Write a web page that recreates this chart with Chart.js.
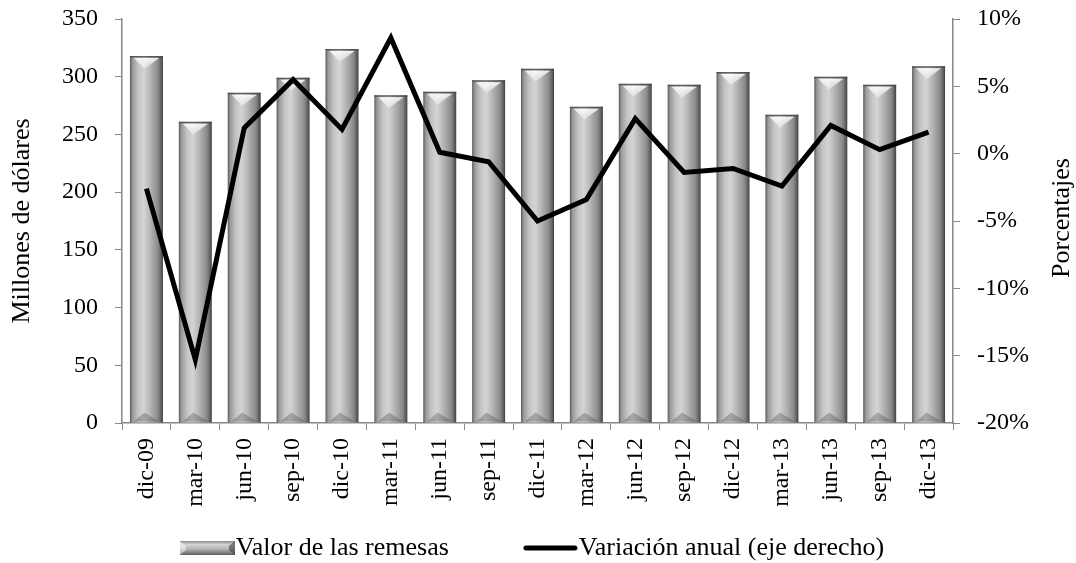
<!DOCTYPE html>
<html>
<head>
<meta charset="utf-8">
<script src="https://cdn.jsdelivr.net/npm/chart.js@4"></script>
<style>
  html, body { margin: 0; padding: 0; background: #fff; }
  #wrap { width: 1076px; height: 563px; }
</style>
</head>
<body>
<div id="wrap"><canvas id="chart"></canvas></div>
<script>
const trimestres = ['dic-09','mar-10','jun-10','sep-10','dic-10','mar-11','jun-11','sep-11','dic-11',
                    'mar-12','jun-12','sep-12','dic-12','mar-13','jun-13','sep-13','dic-13'];
// millones de dolares
const remesas = [318, 261, 286, 299, 324, 284, 287, 297, 307, 274, 294, 293, 304, 267, 300, 293, 309];
// variacion anual, porcentaje
const variacion = [-2.6, -15.3, 1.9, 5.5, 1.8, 8.6, 0.1, -0.6, -5.0, -3.4, 2.6, -1.4, -1.1, -2.4, 2.1, 0.3, 1.6];

const FONT = "'Liberation Serif', 'Times New Roman', serif";
const BAR_PCT = 0.675;

Chart.defaults.font.family = FONT;
Chart.defaults.color = '#000';

function barFill(context) {
  if (context.type !== 'data') return '#b5b5b5';
  const chart = context.chart;
  const xs = chart.scales.x;
  if (!xs || !chart.chartArea) return '#b5b5b5';
  const w = xs.width / trimestres.length * BAR_PCT;
  const cx = xs.getPixelForValue(context.dataIndex);
  const g = chart.ctx.createLinearGradient(cx - w / 2, 0, cx + w / 2, 0);
  g.addColorStop(0, '#5a5a5a');
  g.addColorStop(0.08, '#9a9a9a');
  g.addColorStop(0.25, '#c4c4c4');
  g.addColorStop(0.42, '#d4d4d4');
  g.addColorStop(0.62, '#b4b4b4');
  g.addColorStop(0.85, '#8a8a8a');
  g.addColorStop(0.95, '#5e5e5e');
  g.addColorStop(1, '#3c3c3c');
  return g;
}

// legend samples
function legendBarImg() {
  const c = document.createElement('canvas');
  c.width = 55; c.height = 14;
  const g = c.getContext('2d');
  const gr = g.createLinearGradient(0, 0, 0, 14);
  gr.addColorStop(0, '#8a8a8a');
  gr.addColorStop(0.25, '#d2d2d2');
  gr.addColorStop(0.55, '#b8b8b8');
  gr.addColorStop(1, '#606060');
  g.fillStyle = gr;
  g.fillRect(0, 0, 55, 14);
  g.fillStyle = 'rgba(60,60,60,0.6)';
  g.beginPath(); g.moveTo(55, 0); g.lineTo(49, 5); g.lineTo(49, 9); g.lineTo(55, 14); g.fill();
  g.fillStyle = 'rgba(255,255,255,0.5)';
  g.beginPath(); g.moveTo(0, 0); g.lineTo(6, 5); g.lineTo(6, 9); g.lineTo(0, 14); g.fill();
  return c;
}
function legendLineImg() {
  const c = document.createElement('canvas');
  c.width = 55; c.height = 14;
  const g = c.getContext('2d');
  g.strokeStyle = '#000';
  g.lineWidth = 5;
  g.lineCap = 'round';
  g.beginPath(); g.moveTo(3, 7); g.lineTo(52, 7); g.stroke();
  return c;
}
const legendImgs = [legendBarImg(), legendLineImg()];

const bevelPlugin = {
  id: 'bevel',
  afterDatasetDraw(chart, args) {
    if (args.index !== 0) return;
    const ctx = chart.ctx;
    ctx.save();
    args.meta.data.forEach(bar => {
      const {x, y, base, width} = bar.getProps(['x', 'y', 'base', 'width'], true);
      const l = x - width / 2, r = x + width / 2;
      // top cap
      const gt = ctx.createLinearGradient(0, y, 0, y + 13);
      gt.addColorStop(0, 'rgba(255,255,255,0.95)');
      gt.addColorStop(1, 'rgba(255,255,255,0.35)');
      ctx.fillStyle = gt;
      ctx.beginPath();
      ctx.moveTo(l + 4, y + 2); ctx.lineTo(r - 4, y + 2); ctx.lineTo(x - 2, y + 13); ctx.closePath();
      ctx.fill();
      ctx.strokeStyle = 'rgba(70,70,70,0.8)';
      ctx.lineWidth = 1.5;
      ctx.beginPath(); ctx.moveTo(l, y + 0.75); ctx.lineTo(r, y + 0.75); ctx.stroke();
      // bottom cap
      ctx.fillStyle = 'rgba(60,60,60,0.3)';
      ctx.beginPath();
      ctx.moveTo(l + 4, base - 1); ctx.lineTo(r - 4, base - 1); ctx.lineTo(x - 2, base - 10); ctx.closePath();
      ctx.fill();
    });
    ctx.restore();
  }
};

const rightTitlePlugin = {
  id: 'rightTitle',
  afterDraw(chart) {
    const ctx = chart.ctx;
    ctx.save();
    ctx.translate(1062, 218);
    ctx.rotate(-Math.PI / 2);
    ctx.font = '26px ' + FONT;
    ctx.fillStyle = '#000';
    ctx.textAlign = 'center';
    ctx.textBaseline = 'middle';
    ctx.fillText('Porcentajes', 0, 0);
    ctx.restore();
  }
};

function fixY(width) {
  return s => {
    s.width = width;
    s.paddingTop = 0;
    s.paddingBottom = 0;
  };
}

const ctx = document.getElementById('chart').getContext('2d');
const myChart = new Chart(ctx, {
  type: 'bar',
  data: {
    labels: trimestres,
    datasets: [{
      label: 'Valor de las remesas',
      data: remesas,
      backgroundColor: barFill,
      borderWidth: 0,
      barPercentage: BAR_PCT,
      categoryPercentage: 1,
      yAxisID: 'y',
      order: 1
    }, {
      type: 'line',
      label: 'Variación anual (eje derecho)',
      data: variacion,
      borderColor: '#000',
      backgroundColor: '#000',
      borderWidth: 5,
      pointRadius: 0,
      tension: 0,
      yAxisID: 'y1',
      order: 0
    }]
  },
  options: {
    responsive: true,
    maintainAspectRatio: false,
    animation: false,
    layout: { padding: { top: 19, left: 0, right: 0, bottom: -8 } },
    plugins: {
      tooltip: { enabled: false },
      legend: {
        position: 'bottom',
        labels: {
          usePointStyle: true,
          pointStyleWidth: 31,
          padding: 8,
          font: { size: 26, family: FONT },
          color: '#000',
          generateLabels: chart => {
            const items = Chart.defaults.plugins.legend.labels.generateLabels(chart);
            items.sort((a, b) => a.datasetIndex - b.datasetIndex);
            items.forEach(it => {
              it.pointStyle = legendImgs[it.datasetIndex];
              // wide gap after the first entry, as in the original
              if (it.datasetIndex === 0) it.text = it.text + '\u2003\u2003\u2003';
            });
            return items;
          }
        }
      }
    },
    scales: {
      x: {
        grid: { drawOnChartArea: false, color: '#888', tickLength: 7, offset: true },
        border: { color: '#888', width: 1.5 },
        ticks: { minRotation: 90, maxRotation: 90, autoSkip: false, padding: 8, font: { size: 24 }, color: '#000' },
        afterFit: s => { s.height = 104; }
      },
      y: {
        position: 'left',
        min: 0, max: 350,
        grid: { drawOnChartArea: false, color: '#888', tickLength: 7 },
        border: { color: '#888', width: 1.5 },
        ticks: { stepSize: 50, padding: 17, font: { size: 24 }, color: '#000' },
        title: { display: true, text: 'Millones de dólares', font: { size: 26 }, color: '#000', padding: { top: 7 } },
        afterFit: fixY(122)
      },
      y1: {
        position: 'right',
        min: -20, max: 10,
        grid: { drawOnChartArea: false, color: '#888', tickLength: 7 },
        border: { color: '#888', width: 1.5 },
        ticks: { stepSize: 5, padding: 17, font: { size: 24 }, color: '#000', callback: v => v + '%' },
        afterFit: fixY(123)
      }
    }
  },
  plugins: [bevelPlugin, rightTitlePlugin]
});
</script>
</body>
</html>
